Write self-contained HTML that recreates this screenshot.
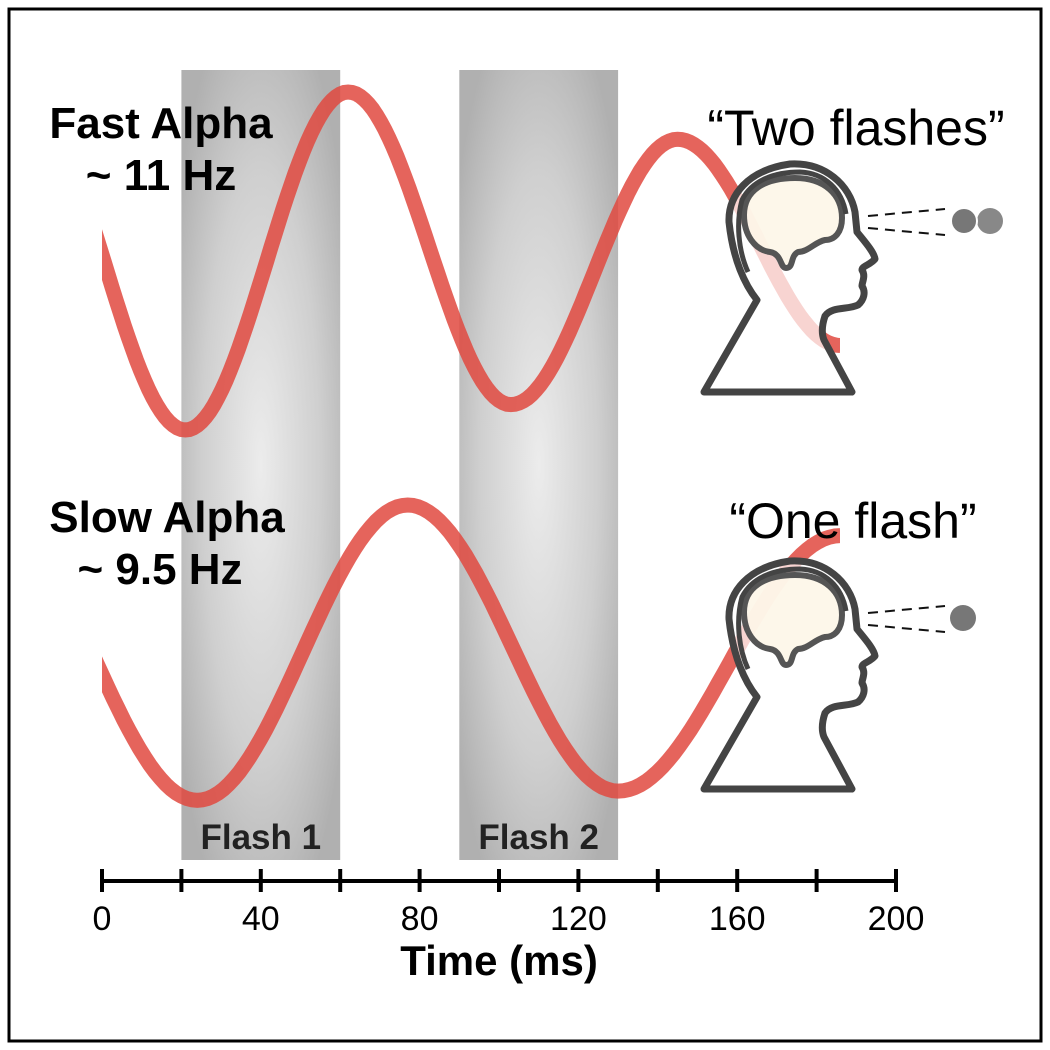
<!DOCTYPE html>
<html><head><meta charset="utf-8"><style>
html,body{margin:0;padding:0;background:#fff}
svg{display:block}
text{font-family:"Liberation Sans",Arial,sans-serif}
</style></head><body>
<svg id="chart" width="1050" height="1050" viewBox="0 0 1050 1050" xmlns="http://www.w3.org/2000/svg">
<defs>
<radialGradient id="fg" cx="0.5" cy="0.5" r="0.62">
<stop offset="0" stop-color="#ececec"/><stop offset="0.6" stop-color="#cfcfcf"/><stop offset="1" stop-color="#b0b0b0"/>
</radialGradient>
<clipPath id="plotclip"><rect x="102" y="0" width="738" height="1050"/></clipPath>
</defs>
<rect x="9" y="9" width="1032" height="1032" fill="#fff" stroke="#000" stroke-width="3"/>
<g id="flashes"></g>
<g id="waves" clip-path="url(#plotclip)"></g>
<g id="heads"></g>
<g id="axis"></g>
<text x="161" y="138" font-size="44" font-weight="bold" text-anchor="middle">Fast Alpha</text>
<text x="161" y="190" font-size="44" font-weight="bold" text-anchor="middle">~ 11 Hz</text>
<text x="167" y="532" font-size="44" font-weight="bold" text-anchor="middle">Slow Alpha</text>
<text x="160" y="584" font-size="44" font-weight="bold" text-anchor="middle">~ 9.5 Hz</text>
<text x="856" y="145" font-size="50" text-anchor="middle">“Two flashes”</text>
<text x="853" y="538" font-size="50" text-anchor="middle">“One flash”</text>
<text x="499" y="975" font-size="42" font-weight="bold" text-anchor="middle">Time (ms)</text>
</svg>
<script>
const tickValues=[0,20,40,60,80,100,120,140,160,180,200];
const tickLabels=["0","","40","","80","","120","","160","","200"];
const flashStarts=[20,90];
const flashEnds=[60,130];
const flashLabels=["Flash 1","Flash 2"];
// wave extrema (time ms, row units: 1 = peak, -1 = trough)
const fastTimes=[-20,21,62,103,145,186];
const fastValues=[1,-1,1,-0.85,0.72,-0.5];
const slowTimes=[-29,24,77,130,186];
const slowValues=[1,-0.93,1,-0.87,0.8];

const NS="http://www.w3.org/2000/svg";
const svg=document.getElementById('chart');
const x=t=>102+t*(794/200);
const fastY=v=>261-v*169;
const slowY=v=>658-v*153;
function mk(tag,attrs,parent){const e=document.createElementNS(NS,tag);for(const k in attrs)e.setAttribute(k,attrs[k]);parent.appendChild(e);return e;}

const gF=document.getElementById('flashes');
flashStarts.forEach((s,i)=>{
  const r=mk('rect',{x:x(s),y:70,width:x(flashEnds[i])-x(s),height:790,fill:'url(#fg)'},gF);
  
  
  const t=mk('text',{x:(x(s)+x(flashEnds[i]))/2,y:849,'font-size':35,'font-weight':'bold','text-anchor':'middle',fill:'#222'},gF);
  t.textContent=flashLabels[i];
  
  
});

function wavePath(ts,vs,yf){
  let d='';
  for(let i=0;i<ts.length-1;i++){
    const n=40;
    for(let k=0;k<=n;k++){
      if(i>0&&k===0)continue;
      const f=k/n,t=ts[i]+(ts[i+1]-ts[i])*f;
      const v=vs[i]+(vs[i+1]-vs[i])*(1-Math.cos(Math.PI*f))/2;
      d+=(d?'L':'M')+x(t).toFixed(1)+','+yf(v).toFixed(1);
    }
  }
  return d;
}
const gW=document.getElementById('waves');
const w1=mk('path',{d:wavePath(fastTimes,fastValues,fastY),fill:'none',stroke:'#e0493f','stroke-opacity':0.85,'stroke-width':15},gW);


const w2=mk('path',{d:wavePath(slowTimes,slowValues,slowY),fill:'none',stroke:'#e0493f','stroke-opacity':0.85,'stroke-width':15},gW);



const headD='M704,392 L757,300 C745,285 733,260 729,222 C728,195 748,170 790,164 C825,162 850,185 855,212 L857,232 C865,242 874,252 875,259 C870,265 862,266 862,270 C866,276 862,282 862,286 C866,292 864,300 858,305 C848,310 832,306 825,316 C821,328 822,335 824,340 L852,392 Z';
const skullD='M748,272 C738,250 736,222 742,200 C752,180 775,172 800,172 C825,173 842,190 846,214';
const brainD='M744,215 C744,190 765,178 795,178 C825,178 842,195 842,218 C842,232 835,240 825,240 C815,242 808,252 798,252 C790,256 794,268 786,268 C780,268 782,254 770,252 C755,250 744,235 744,215 Z';
const gH=document.getElementById('heads');
[0,397].forEach((dy,i)=>{
  const g=mk('g',{transform:'translate(0,'+dy+')'},gH);
  
  
  mk('path',{d:headD,fill:'#fff','fill-opacity':0.72,stroke:'#444','stroke-width':7,'stroke-linejoin':'round'},g);
  mk('path',{d:brainD,fill:'#fdf6e8','fill-opacity':0.9,stroke:'#555','stroke-width':6,'stroke-linejoin':'round'},g);
  mk('path',{d:skullD,fill:'none',stroke:'#444','stroke-width':5},g);
  mk('line',{x1:868,y1:216,x2:945,y2:209,stroke:'#111','stroke-width':2,'stroke-dasharray':'10,7'},g);
  mk('line',{x1:868,y1:228,x2:945,y2:235,stroke:'#111','stroke-width':2,'stroke-dasharray':'10,7'},g);
  if(i===0){
    mk('circle',{cx:990,cy:221,r:13,fill:'#888'},g);
    mk('circle',{cx:964,cy:221,r:13,fill:'#777',stroke:'#fff','stroke-width':2},g);
  }else{
    mk('circle',{cx:963,cy:221,r:13,fill:'#777'},g);
  }
});

const gA=document.getElementById('axis');
const al=mk('line',{x1:x(0),y1:881,x2:x(200),y2:881,stroke:'#000','stroke-width':4},gA);


tickValues.forEach((v,i)=>{
  const tk=mk('line',{x1:x(v),y1:869,x2:x(v),y2:892,stroke:'#000','stroke-width':4},gA);
  
  
  if(tickLabels[i]){
    const t=mk('text',{x:x(v),y:930,'font-size':34,'text-anchor':'middle'},gA);
    t.textContent=tickLabels[i];
    
    
  }
});
</script>
</body></html>
